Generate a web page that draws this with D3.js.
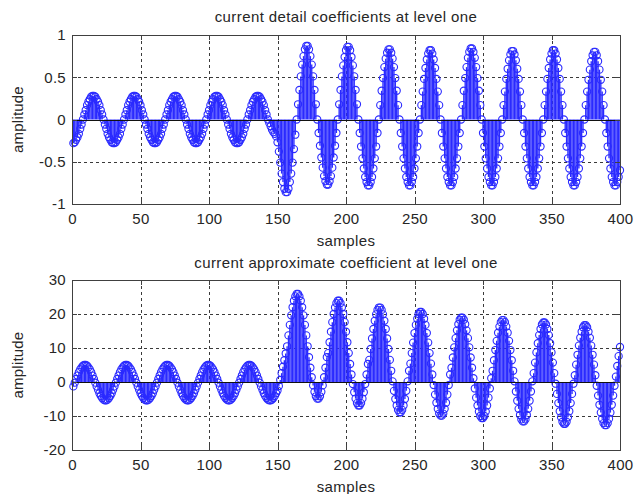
<!DOCTYPE html>
<html>
<head>
<meta charset="utf-8">
<script src="https://cdn.jsdelivr.net/npm/d3@7"></script>
<style>
  html, body { margin: 0; padding: 0; background: #fff; }
  svg { display: block; }
  text { font-family: "Liberation Sans", Arial, sans-serif; fill: #262626; }
</style>
</head>
<body>
<script>
// ---------------- data ----------------
const xTicks = [0, 50, 100, 150, 200, 250, 300, 350, 400];
const detailYTicks = [-1, -0.5, 0, 0.5, 1];
const approxYTicks = [-20, -10, 0, 10, 20, 30];
const titles = ["current detail coefficients at level one", "current approximate coefficient at level one"];
const xLabel = "samples";
const yLabel = "amplitude";

// detail coefficients, samples 1..400
const detailValues = [
 -.28,-.27,-.24,-.21,-.17,-.11,-.06,
 0,.06,.11,.17,.21,.24,.27,.28,.28,.27,.24,.21,.17,.11,.06,0,-.06,-.11,-.17,-.21,-.24,-.27,-.28,-.28,-.27,-.24,-.21,-.17,-.11,-.06,
 0,.06,.11,.17,.21,.24,.27,.28,.28,.27,.24,.21,.17,.11,.06,0,-.06,-.11,-.17,-.21,-.24,-.27,-.28,-.28,-.27,-.24,-.21,-.17,-.11,-.06,
 0,.06,.11,.17,.21,.24,.27,.28,.28,.27,.24,.21,.17,.11,.06,0,-.06,-.11,-.17,-.21,-.24,-.27,-.28,-.28,-.27,-.24,-.21,-.17,-.11,-.06,
 0,.06,.11,.17,.21,.24,.27,.28,.28,.27,.24,.21,.17,.11,.06,0,-.06,-.11,-.17,-.21,-.24,-.27,-.28,-.28,-.27,-.24,-.21,-.17,-.11,-.06,
 0,.06,.11,.17,.21,.24,.27,.28,.28,.27,.24,.21,.17,.11,.06,0,
 -.04,-.08,-.12,-.15,-.17,-.2,
 -.27,-.38,-.51,-.64,-.74,-.82,-.86,-.86,-.82,-.74,-.64,-.51,-.35,-.18,
 0,.18,.35,.51,.65,.75,.83,.87,.87,.83,.75,.65,.51,.35,.18,0,
 -.16,-.31,-.45,-.57,-.67,-.73,-.77,-.77,-.73,-.67,-.57,-.45,-.31,-.16,
 0,.18,.35,.51,.64,.74,.82,.86,.86,.82,.74,.64,.51,.35,.18,0,
 -.16,-.32,-.46,-.58,-.68,-.74,-.78,-.78,-.74,-.68,-.58,-.46,-.32,-.16,
 0,.17,.34,.49,.62,.72,.79,.83,.83,.79,.72,.62,.49,.34,.17,0,
 -.16,-.32,-.46,-.58,-.68,-.74,-.78,-.78,-.74,-.68,-.58,-.46,-.32,-.16,
 0,.17,.33,.48,.61,.71,.78,.82,.82,.78,.71,.61,.48,.33,.17,0,
 -.16,-.32,-.46,-.58,-.68,-.74,-.78,-.78,-.74,-.68,-.58,-.46,-.32,-.16,
 0,.17,.34,.49,.62,.73,.8,.84,.84,.8,.73,.62,.49,.34,.17,0,
 -.16,-.32,-.46,-.58,-.68,-.74,-.78,-.78,-.74,-.68,-.58,-.46,-.32,-.16,
 0,.17,.33,.48,.6,.7,.77,.81,.81,.77,.7,.6,.48,.33,.17,0,
 -.16,-.32,-.46,-.58,-.68,-.74,-.78,-.78,-.74,-.68,-.58,-.46,-.32,-.16,
 0,.17,.33,.48,.61,.71,.78,.82,.82,.78,.71,.61,.48,.33,.17,0,
 -.16,-.32,-.46,-.58,-.68,-.74,-.78,-.78,-.74,-.68,-.58,-.46,-.32,-.16,
 0,.17,.33,.47,.59,.69,.76,.8,.8,.76,.69,.59,.47,.33,.17,0,
 -.16,-.32,-.46,-.58,-.68,-.74,-.78,-.78,-.74,-.68,-.6
];

// approximation coefficients, samples 1..400
const approxValues = [
 -1.3,
 -0.2,0.9,1.9,2.9,3.7,4.3,4.8,5.0,5.0,4.8,4.3,3.7,2.9,1.9,0.9,-0.2,-1.3,-2.3,-3.3,-4.1,-4.7,-5.2,-5.4,-5.4,-5.2,-4.7,-4.1,-3.3,-2.3,-1.3,
 -0.2,0.9,1.9,2.9,3.7,4.3,4.8,5.0,5.0,4.8,4.3,3.7,2.9,1.9,0.9,-0.2,-1.3,-2.3,-3.3,-4.1,-4.7,-5.2,-5.4,-5.4,-5.2,-4.7,-4.1,-3.3,-2.3,-1.3,
 -0.2,0.9,1.9,2.9,3.7,4.3,4.8,5.0,5.0,4.8,4.3,3.7,2.9,1.9,0.9,-0.2,-1.3,-2.3,-3.3,-4.1,-4.7,-5.2,-5.4,-5.4,-5.2,-4.7,-4.1,-3.3,-2.3,-1.3,
 -0.2,0.9,1.9,2.9,3.7,4.3,4.8,5.0,5.0,4.8,4.3,3.7,2.9,1.9,0.9,-0.2,-1.3,-2.3,-3.3,-4.1,-4.7,-5.2,-5.4,-5.4,-5.2,-4.7,-4.1,-3.3,-2.3,-1.3,
 -0.2,0.9,1.9,2.9,3.7,4.3,4.8,5.0,5.0,4.8,4.3,3.7,2.9,1.9,0.9,-0.2,-1.3,-2.3,-3.3,-4.1,-4.7,-5.2,-5.4,-5.4,-5.2,-4.7,-4.1,-3.3,
 -2.5,-1.2,0.6,2.6,4.5,6.4,8.4,
 10.5,13.7,16.8,19.6,22.0,23.9,25.2,25.9,25.9,25.2,23.9,22.0,19.6,16.8,13.7,10.5,7.3,4.2,1.4,-1.0,-2.9,-4.2,-4.9,-4.9,-4.2,-2.9,-1.0,1.4,4.2,7.3,
 8.5,11.7,14.8,17.6,20.0,21.9,23.2,23.9,23.9,23.2,21.9,20.0,17.6,14.8,11.7,8.5,5.3,2.2,-0.6,-3.0,-4.9,-6.2,-6.9,-6.9,-6.2,-4.9,-3.0,-0.6,2.2,5.3,
 6.5,9.7,12.8,15.6,18.0,19.9,21.2,21.9,21.9,21.2,19.9,18.0,15.6,12.8,9.7,6.5,3.3,0.2,-2.6,-5.0,-6.9,-8.2,-8.9,-8.9,-8.2,-6.9,-5.0,-2.6,0.2,3.3,
 5.4,8.5,11.6,14.4,16.8,18.6,20.0,20.6,20.6,20.0,18.6,16.8,14.4,11.6,8.5,5.4,2.2,-0.9,-3.7,-6.1,-7.9,-9.3,-9.9,-9.9,-9.3,-7.9,-6.1,-3.7,-0.9,2.2,
 4.2,7.2,10.2,12.9,15.2,17.0,18.3,18.9,18.9,18.3,17.0,15.2,12.9,10.2,7.2,4.2,1.1,-1.9,-4.6,-6.9,-8.7,-10.0,-10.6,-10.6,-10.0,-8.7,-6.9,-4.6,-1.9,1.1,
 3.3,6.4,9.4,12.1,14.5,16.3,17.6,18.2,18.2,17.6,16.3,14.5,12.1,9.4,6.4,3.3,0.2,-2.8,-5.5,-7.9,-9.7,-11.0,-11.6,-11.6,-11.0,-9.7,-7.9,-5.5,-2.8,0.2,
 2.6,5.7,8.7,11.4,13.8,15.6,16.9,17.5,17.5,16.9,15.6,13.8,11.4,8.7,5.7,2.6,-0.5,-3.5,-6.2,-8.6,-10.4,-11.7,-12.3,-12.3,-11.7,-10.4,-8.6,-6.2,-3.5,-0.5,
 2.0,5.1,8.0,10.7,13.0,14.8,16.1,16.7,16.7,16.1,14.8,13.0,10.7,8.0,5.1,2.0,-1.1,-4.0,-6.7,-9.0,-10.8,-12.1,-12.7,-12.7,-12.1,-10.8,-9.0,-6.7,-4.0,-1.1,
 1.6,4.7,7.6,10.3
];

// ---------------- drawing ----------------
const W = 644, H = 494;
const BLUE = "#2a2aff";
const svg = d3.select("body").append("svg").attr("width", W).attr("height", H);
svg.append("rect").attr("width", W).attr("height", H).attr("fill", "#fff");

const panels = [
  { values: detailValues, yTicks: detailYTicks, yDomain: [-1, 1], top: 35, bottom: 204, title: titles[0], titleY: 22 },
  { values: approxValues, yTicks: approxYTicks, yDomain: [-20, 30], top: 280, bottom: 450, title: titles[1], titleY: 268 }
];

const LEFT = 72, RIGHT = 620;

panels.forEach(p => {
  const x = d3.scaleLinear().domain([0, 400]).range([LEFT, RIGHT]);
  const y = d3.scaleLinear().domain(p.yDomain).range([p.bottom, p.top]);
  const g = svg.append("g");
  const data = p.values.map((v, i) => ({ n: i + 1, v }));

  // grid
  const grid = g.append("g").attr("stroke", "#3a3a3a").attr("stroke-width", 1).attr("stroke-dasharray", "3,3").attr("shape-rendering", "crispEdges");
  grid.selectAll(".gx").data(xTicks.slice(1, -1)).join("line")
    .attr("x1", d => Math.round(x(d)) + 0.5).attr("x2", d => Math.round(x(d)) + 0.5)
    .attr("y1", p.top).attr("y2", p.bottom);
  grid.selectAll(".gy").data(p.yTicks.slice(1, -1)).join("line")
    .attr("y1", d => Math.round(y(d)) + 0.5).attr("y2", d => Math.round(y(d)) + 0.5)
    .attr("x1", LEFT).attr("x2", RIGHT);

  // stems
  g.append("g").attr("stroke", BLUE).attr("stroke-width", 1.35)
    .selectAll("line").data(data).join("line")
    .attr("x1", d => x(d.n)).attr("x2", d => x(d.n))
    .attr("y1", y(0)).attr("y2", d => y(d.v));

  // markers
  g.append("g").attr("stroke", BLUE).attr("stroke-width", 1.1).attr("fill", "none")
    .selectAll("circle").data(data).join("circle")
    .attr("cx", d => x(d.n)).attr("cy", d => y(d.v)).attr("r", 3.6);

  // baseline
  g.append("line").attr("x1", LEFT).attr("x2", RIGHT)
    .attr("y1", Math.round(y(0)) + 0.5).attr("y2", Math.round(y(0)) + 0.5)
    .attr("stroke", "#111").attr("stroke-width", 1).attr("shape-rendering", "crispEdges");

  // axes (ticks inward)
  const axB = d3.axisBottom(x).tickValues(xTicks).tickSize(-5).tickPadding(9).tickFormat(d => String(d));
  const axT = d3.axisTop(x).tickValues(xTicks).tickSize(-5).tickFormat("");
  const axL = d3.axisLeft(y).tickValues(p.yTicks).tickSize(-5).tickPadding(6).tickFormat(d => String(d));
  const axR = d3.axisRight(y).tickValues(p.yTicks).tickSize(-5).tickFormat("");
  const styleAx = sel => {
    sel.selectAll("path, line").attr("stroke", "#404040").attr("shape-rendering", "crispEdges");
    sel.selectAll("text").attr("font-size", 15).attr("fill", "#262626")
      .style("font-family", '"Liberation Sans", Arial, sans-serif').style("letter-spacing", "0.3px");
  };
  g.append("g").attr("transform", `translate(0,${p.bottom})`).call(axB).call(styleAx);
  g.append("g").attr("transform", `translate(0,${p.top})`).call(axT).call(styleAx);
  g.append("g").attr("transform", `translate(${LEFT},0)`).call(axL).call(styleAx);
  g.append("g").attr("transform", `translate(${RIGHT},0)`).call(axR).call(styleAx);
  g.selectAll(".domain").attr("stroke", "#404040");

  // title
  g.append("text").attr("x", (LEFT + RIGHT) / 2).attr("y", p.titleY)
    .attr("text-anchor", "middle").attr("font-size", 15).style("letter-spacing", "0.4px")
    .text(p.title);
  // x label
  g.append("text").attr("x", (LEFT + RIGHT) / 2).attr("y", p.bottom + 42)
    .attr("text-anchor", "middle").attr("font-size", 15).style("letter-spacing", "0.4px")
    .text(xLabel);
  // y label
  g.append("text").attr("transform", `translate(23,${(p.top + p.bottom) / 2}) rotate(-90)`)
    .attr("text-anchor", "middle").attr("font-size", 15).style("letter-spacing", "0.2px")
    .text(yLabel);
});
</script>
</body>
</html>
